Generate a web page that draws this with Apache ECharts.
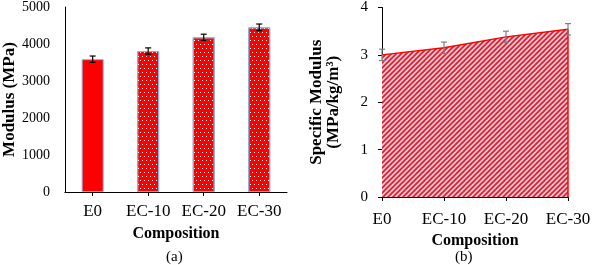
<!DOCTYPE html>
<html>
<head>
<meta charset="utf-8">
<script src="https://cdn.jsdelivr.net/npm/echarts@6/dist/echarts.min.js"></script>
<style>html,body{margin:0;padding:0;background:#fff}#c{width:602px;height:265px}</style>
</head>
<body>
<div id="c"></div>
<script>
const categories = ['E0', 'EC-10', 'EC-20', 'EC-30'];
const modulus = [3590, 3810, 4180, 4450];
const modulusErr = [85, 85, 85, 90];
const specificModulus = [3.0, 3.15, 3.38, 3.54];
const specificErr = [0.12, 0.12, 0.12, 0.12];
const modulusAxis = { min: 0, max: 5000, interval: 1000 };
const specificAxis = { min: 0, max: 4, interval: 1 };

const FONT = 'Liberation Serif';

// hatch pattern for the area
const T = 5;
const pc = document.createElement('canvas');
pc.width = T; pc.height = T;
const g = pc.getContext('2d');
g.fillStyle = '#d2d3ee';
g.fillRect(0, 0, T, T);
g.strokeStyle = '#ff1010';
g.lineWidth = 1.6;
g.beginPath();
for (let k = -1; k <= 1; k++) {
  g.moveTo(-1 + k * T, T + 1); g.lineTo(T + 1 + k * T, -1);
}
g.stroke();

function errRender(color) {
  return function (params, api) {
    const lo = api.coord([api.value(0), api.value(1)]);
    const hi = api.coord([api.value(0), api.value(2)]);
    const w = 3;
    const st = { stroke: color, lineWidth: 1.2 };
    return {
      type: 'group',
      children: [
        { type: 'line', shape: { x1: lo[0], y1: lo[1], x2: hi[0], y2: hi[1] }, style: st },
        { type: 'line', shape: { x1: lo[0] - w, y1: lo[1], x2: lo[0] + w, y2: lo[1] }, style: st },
        { type: 'line', shape: { x1: hi[0] - w, y1: hi[1], x2: hi[0] + w, y2: hi[1] }, style: st }
      ]
    };
  };
}

const axisLineStyle = { show: true, lineStyle: { color: '#000', width: 1 } };
const dotDecal = {
  symbol: 'rect', symbolSize: 1, color: '#ffffff',
  dashArrayX: [[1, 3], [0, 2, 1, 1]], dashArrayY: [1, 3]
};
const lastIdx = categories.length - 1;

const chart = echarts.init(document.getElementById('c'), null, { renderer: 'canvas' });
chart.setOption({
  animation: false,
  textStyle: { fontFamily: FONT },
  grid: [
    { left: 64, top: 7, width: 223, height: 185 },
    { left: 382, top: 6, width: 186, height: 191 }
  ],
  xAxis: [
    {
      gridIndex: 0, type: 'category', data: categories,
      axisLine: axisLineStyle,
      axisTick: { show: true, alignWithLabel: true, length: 4, lineStyle: { color: '#000' } },
      axisLabel: { color: '#000', fontSize: 17, fontFamily: FONT, margin: 11, interval: 0 },
      name: 'Composition', nameLocation: 'middle', nameGap: 34,
      nameTextStyle: { color: '#000', fontSize: 16, fontWeight: 'bold', fontFamily: FONT }
    },
    {
      gridIndex: 1, type: 'category', data: categories, boundaryGap: false,
      axisLine: axisLineStyle,
      axisTick: { show: true, length: 4, lineStyle: { color: '#000' } },
      axisLabel: { color: '#000', fontSize: 17, fontFamily: FONT, margin: 14, interval: 0 },
      name: 'Composition', nameLocation: 'middle', nameGap: 34,
      nameTextStyle: { color: '#000', fontSize: 16, fontWeight: 'bold', fontFamily: FONT }
    }
  ],
  yAxis: [
    {
      gridIndex: 0, type: 'value', min: modulusAxis.min, max: modulusAxis.max, interval: modulusAxis.interval,
      axisLine: axisLineStyle,
      axisTick: { show: false },
      splitLine: { show: false },
      axisLabel: { color: '#000', fontSize: 14, fontFamily: FONT, margin: 15, formatter: v => String(v) },
      name: 'Modulus (MPa)', nameLocation: 'middle', nameGap: 46,
      nameTextStyle: { color: '#000', fontSize: 17, fontWeight: 'bold', fontFamily: FONT }
    },
    {
      gridIndex: 1, type: 'value', min: specificAxis.min, max: specificAxis.max, interval: specificAxis.interval,
      axisLine: axisLineStyle,
      axisTick: { show: true, length: 4, lineStyle: { color: '#000' } },
      splitLine: { show: false },
      axisLabel: { color: '#000', fontSize: 15, fontFamily: FONT, margin: 14, formatter: v => String(v) },
      name: 'Specific Modulus\n(MPa/kg/m³)', nameLocation: 'middle', nameGap: 40,
      nameTextStyle: { color: '#000', fontSize: 17, fontWeight: 'bold', fontFamily: FONT, lineHeight: 17 }
    }
  ],
  series: [
    {
      type: 'bar', xAxisIndex: 0, yAxisIndex: 0, barWidth: 22,
      data: modulus.map((v, i) => ({
        value: v,
        itemStyle: i === 0 ? { color: '#ff0000', borderColor: '#8cb0de', borderWidth: 1 }
                           : { color: '#ff0000', borderColor: '#8cb0de', borderWidth: 1, decal: dotDecal }
      })),
      z: 2
    },
    {
      type: 'custom', xAxisIndex: 0, yAxisIndex: 0,
      renderItem: errRender('#000'),
      data: modulus.map((v, i) => [i, v - modulusErr[i], v + modulusErr[i]]),
      z: 5
    },
    {
      type: 'line', xAxisIndex: 1, yAxisIndex: 1, symbol: 'none',
      data: specificModulus,
      lineStyle: { color: '#ff0000', width: 1.5 },
      areaStyle: { color: { image: pc, repeat: 'repeat' }, opacity: 1 },
      markLine: {
        silent: true, symbol: 'none', label: { show: false },
        lineStyle: { color: '#ff0000', width: 1.5, type: 'solid' },
        data: [[
          { coord: [categories[lastIdx], specificAxis.min] },
          { coord: [categories[lastIdx], specificModulus[lastIdx]] }
        ]]
      },
      z: 2
    },
    {
      type: 'custom', xAxisIndex: 1, yAxisIndex: 1,
      renderItem: errRender('#7f7f7f'),
      data: specificModulus.map((v, i) => [i, v - specificErr[i], v + specificErr[i]]),
      z: 5
    }
  ],
  graphic: [
    { type: 'text', left: 166, top: 250, style: { text: '(a)', font: '15px ' + FONT, fill: '#000' } },
    { type: 'text', left: 455, top: 250, style: { text: '(b)', font: '15px ' + FONT, fill: '#000' } }
  ]
});
</script>
</body>
</html>
